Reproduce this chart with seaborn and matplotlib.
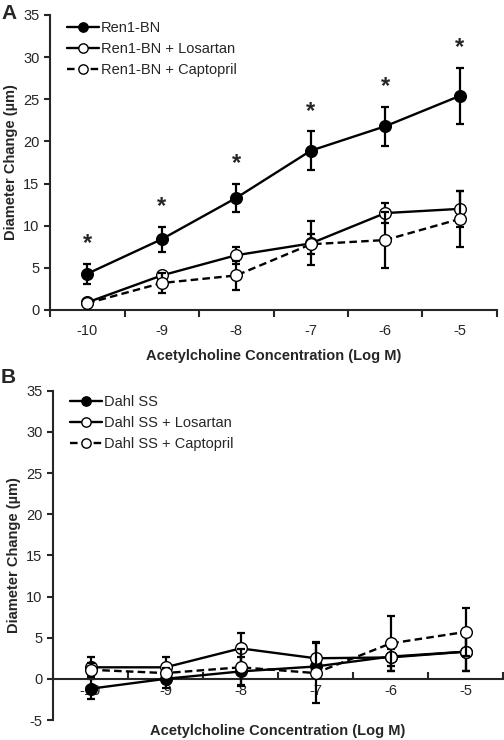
import numpy as np
import pandas as pd
import matplotlib
matplotlib.use("Agg")
import matplotlib.pyplot as plt
import seaborn as sns

# ---------------- data ----------------
categories = ["-10", "-9", "-8", "-7", "-6", "-5"]

# Panel A
ren_names = ["Ren1-BN", "Ren1-BN + Losartan", "Ren1-BN + Captopril"]
ren_ctrl = [4.3, 8.4, 13.3, 18.9, 21.8, 25.4]
ren_ctrl_err = [1.2, 1.5, 1.7, 2.3, 2.3, 3.3]
ren_los = [0.9, 4.1, 6.5, 7.9, 11.5, 12.0]
ren_los_err = [0.3, 0.4, 1.0, 2.6, 1.2, 2.1]
ren_cap = [0.8, 3.2, 4.1, 7.8, 8.3, 10.8]
ren_cap_err = [0.3, 1.2, 1.7, 1.2, 3.3, 3.3]
sig_A = [True, True, True, True, True, True]

# Panel B
dahl_names = ["Dahl SS", "Dahl SS + Losartan", "Dahl SS + Captopril"]
dahl_ctrl = [-1.2, 0.0, 0.9, 1.5, 2.7, 3.3]
dahl_ctrl_err = [1.2, 1.1, 1.8, 1.0, 1.8, 2.4]
dahl_los = [1.4, 1.4, 3.7, 2.5, 2.6, 3.3]
dahl_los_err = [1.2, 1.2, 1.9, 2.0, 1.0, 2.3]
dahl_cap = [1.1, 0.7, 1.4, 0.7, 4.3, 5.7]
dahl_cap_err = [0.8, 0.6, 2.2, 3.6, 3.3, 2.9]

xlabel = "Acetylcholine Concentration (Log M)"
ylabel = "Diameter Change (\u00b5m)"

# ---------------- style ----------------
sns.set_theme(style="ticks")
plt.rcParams["font.family"] = ["Liberation Sans", "DejaVu Sans"]
plt.rcParams["axes.unicode_minus"] = False

fig = plt.figure(figsize=(5.04, 7.40), dpi=100)
axA = fig.add_axes([50 / 504, 1 - 310 / 740, 447 / 504, 295 / 740])
axB = fig.add_axes([53 / 504, 1 - 720 / 740, 450 / 504, (720 - 390.7) / 740])

styles = [
    dict(marker="o", mfc="black", ls="-"),
    dict(marker="o", mfc="white", ls="-"),
    dict(marker="o", mfc="white", ls=(0, (3.2, 1.8))),
]


def draw_panel(ax, names, series, errs, legend_anchor):
    x = np.arange(len(categories))
    frames = []
    for name, vals in zip(names, series):
        frames.append(pd.DataFrame({"x": x, "y": vals, "group": name}))
    df = pd.concat(frames, ignore_index=True)
    for i in range(3):
        sub = df[df["group"] == names[i]]
        st = styles[i]
        ax.errorbar(sub["x"], sub["y"], yerr=errs[i], fmt="none", ecolor="black",
                    elinewidth=1.6, capsize=2.6, capthick=1.6, zorder=2 + i)
        sns.lineplot(data=sub, x="x", y="y", ax=ax, color="black", lw=1.7,
                     linestyle=st["ls"], marker=st["marker"], markersize=8.4,
                     markerfacecolor=st["mfc"], markeredgecolor="black",
                     markeredgewidth=1.0, label=names[i], zorder=3 + i,
                     errorbar=None, sort=False)
    ax.set_xlim(-0.5, len(categories) - 0.5)
    ax.set_xticks(np.arange(len(categories) + 1) - 0.5, minor=False)
    ax.set_xticklabels([])
    ax.set_xticks(x, minor=True)
    ax.set_xticklabels(categories, minor=True)
    ax.tick_params(axis="x", which="minor", length=0, labelsize=10.5, pad=10)
    ax.tick_params(axis="y", labelsize=10.5, length=4, width=1.5, direction="out")
    ax.set_xlabel(xlabel, fontsize=10.5, fontweight="bold", labelpad=6)
    ax.set_ylabel(ylabel, fontsize=10.5, fontweight="bold", labelpad=4)
    ax.spines["top"].set_visible(False)
    ax.spines["right"].set_visible(False)
    ax.spines["left"].set_linewidth(1.5)
    ax.spines["bottom"].set_linewidth(1.5)
    handles, labels = ax.get_legend_handles_labels()
    mp = dict(zip(labels, handles))
    ax.legend([mp[n] for n in names], names, loc="upper left", frameon=False,
              fontsize=10.5, handlelength=2.2, handletextpad=0.1,
              labelspacing=0.5, borderaxespad=0.0,
              bbox_to_anchor=legend_anchor, markerscale=0.8)
    return ax


draw_panel(axA, ren_names, [ren_ctrl, ren_los, ren_cap],
           [ren_ctrl_err, ren_los_err, ren_cap_err], (0.025, 1.0))
axA.set_ylim(0, 35)
axA.set_yticks(np.arange(0, 36, 5))
axA.tick_params(axis="x", which="major", length=5, width=1.5, direction="out")
axA.xaxis.labelpad = 8
for i, (v, e, s) in enumerate(zip(ren_ctrl, ren_ctrl_err, sig_A)):
    if s:
        axA.text(i, v + e + 2.4, "*", ha="center", va="center", fontsize=17,
                 fontweight="bold")

draw_panel(axB, dahl_names, [dahl_ctrl, dahl_los, dahl_cap],
           [dahl_ctrl_err, dahl_los_err, dahl_cap_err], (0.025, 1.005))
axB.set_ylim(-5, 35)
axB.set_yticks(np.arange(-5, 36, 5))
axB.spines["bottom"].set_position(("data", 0))
axB.tick_params(axis="x", which="major", length=5, width=1.5, direction="in")
axB.tick_params(axis="x", which="minor", pad=4)
axB.xaxis.set_label_coords(0.5, -0.012)

fig.text(0.002, 0.995, "A", fontsize=15, fontweight="bold", va="top", ha="left")
fig.text(0.002, 0.503, "B", fontsize=15, fontweight="bold", va="top", ha="left")

fig.savefig("out.png", dpi=100)
